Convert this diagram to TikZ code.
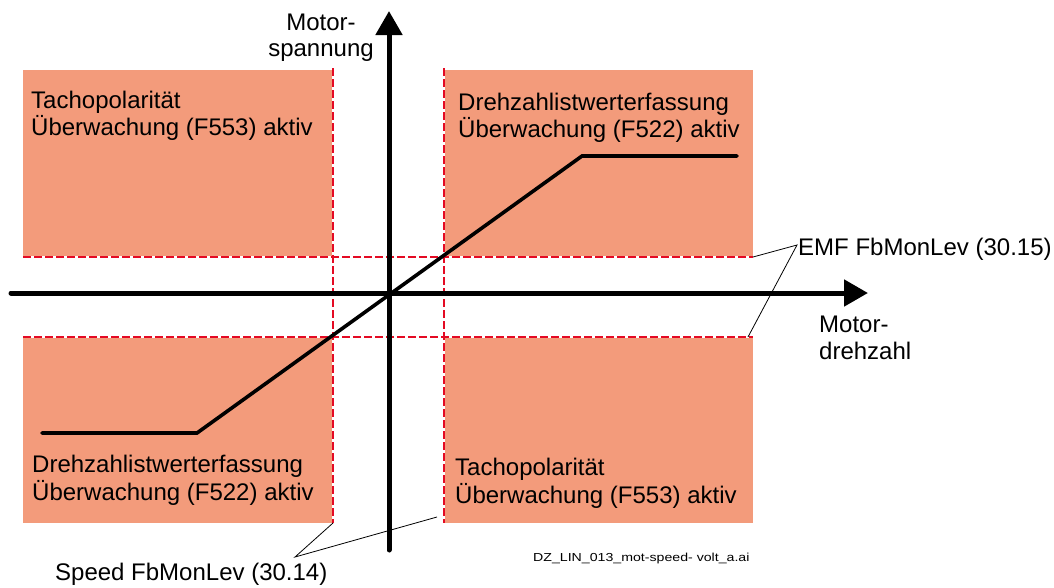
\documentclass[tikz,border=0pt]{standalone}
\usepackage{fontspec}
\setmainfont{Liberation Sans}
\usetikzlibrary{arrows.meta}
\definecolor{zone}{RGB}{243,155,123}
\definecolor{limred}{RGB}{228,10,35}
\tikzset{
  zonebox/.style={fill=zone, draw=none},
  limline/.style={draw=white, line width=1.6pt},
  limdash/.style={draw=limred, line width=1.6pt, dash pattern=on 8pt off 3pt},
  axis/.style={line width=5pt, line cap=round, -{Triangle[length=24pt,width=26pt]}},
  curve/.style={line width=3.6pt, line cap=round, line join=miter},
  leader/.style={line width=0.8pt},
  lbl/.style={anchor=base west, inner sep=0pt, font=\fontsize{24}{27}\selectfont},
  lblc/.style={anchor=base, inner sep=0pt, font=\fontsize{24}{27}\selectfont},
}
\begin{document}
\begin{tikzpicture}[x=1pt,y=-1pt]
\useasboundingbox (0,0) rectangle (1054,587);
% zones
\fill[zonebox] (23,70) rectangle (333,257);
\fill[zonebox] (444,70) rectangle (753,257);
\fill[zonebox] (23,337) rectangle (333,523);
\fill[zonebox] (444,337) rectangle (753,523);
% limit lines
\coordinate (vl1) at (333,68); \coordinate (vl2) at (333,523);
\coordinate (vr1) at (444,68); \coordinate (vr2) at (444,523);
\coordinate (ht1) at (23,257); \coordinate (ht2) at (753,257);
\coordinate (hb1) at (23,337); \coordinate (hb2) at (753,337);
\foreach \a/\b in {vl1/vl2, vr1/vr2, ht1/ht2, hb1/hb2}{
  \draw[limline] (\a) -- (\b);
  \draw[limdash] (\a) -- (\b);
}
% axes
\coordinate (ybot) at (389,550); \coordinate (ytop) at (389,11);
\coordinate (xleft) at (11,293); \coordinate (xright) at (868,293);
\draw[axis] (ybot) -- (ytop);
\draw[axis] (xleft) -- (xright);
% characteristic
\coordinate (c1) at (42,433); \coordinate (c2) at (197,433);
\coordinate (c3) at (582,156); \coordinate (c4) at (737,156);
\draw[curve] (c1) -- (c2) -- (c3) -- (c4);
% texts
\node[lbl] (tl1) at (31,108) {Tachopolarität};
\node[lbl] (tl2) at (31,135) {Überwachung (F553) aktiv};
\node[lbl] (tr1) at (458,110) {Drehzahlistwerterfassung};
\node[lbl] (tr2) at (458,137) {Überwachung (F522) aktiv};
\node[lbl] (bl1) at (32,472) {Drehzahlistwerterfassung};
\node[lbl] (bl2) at (32,500) {Überwachung (F522) aktiv};
\node[lbl] (br1) at (455,475) {Tachopolarität};
\node[lbl] (br2) at (455,503) {Überwachung (F553) aktiv};
\node[lblc] (ys1) at (321,30) {Motor-};
\node[lblc] (ys2) at (321,56) {spannung};
\node[lbl] (xs1) at (819,332) {Motor-};
\node[lbl] (xs2) at (819,359) {drehzahl};
\node[lbl] (emf) at (798,255) {EMF FbMonLev (30.15)};
\node[lbl] (spd) at (55,580) {Speed FbMonLev (30.14)};
\node[anchor=base west, inner sep=0pt, font=\fontsize{11.6}{13}\selectfont] (fn) at (533,561) {\scalebox{1.22}[1]{DZ\_LIN\_013\_mot-speed- volt\_a.ai}};
% leaders
\coordinate (emfp) at (797,245);
\coordinate (emfa) at (753,257);
\coordinate (emfb) at (748,337);
\draw[leader] (emfa) -- (emfp) -- (emfb);
\coordinate (spdp) at (295,557);
\coordinate (spda) at (333,523);
\coordinate (spdb) at (437,517);
\draw[leader] (spda) -- (spdp) -- (spdb);
\end{tikzpicture}
\end{document}
